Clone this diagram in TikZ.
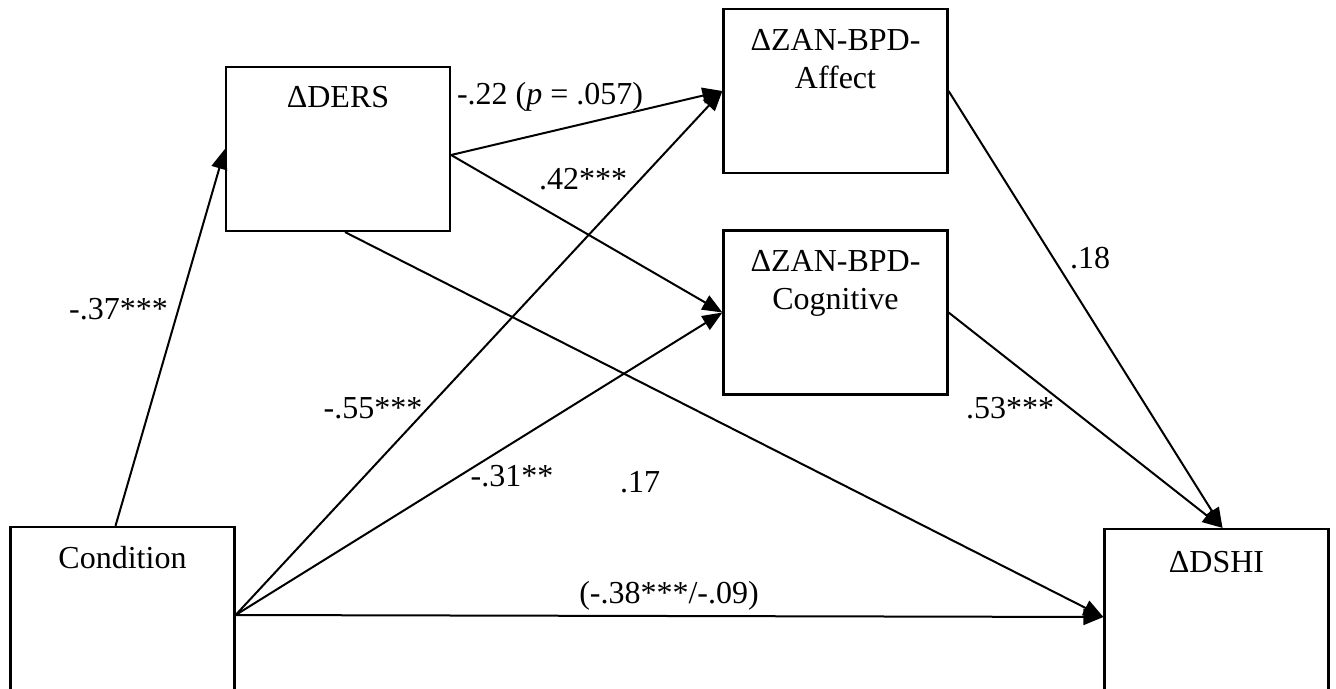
\documentclass[tikz,border=0pt]{standalone}
\usepackage{fontspec}
\setmainfont{Liberation Serif}
\usetikzlibrary{arrows.meta}

\begin{document}
\begin{tikzpicture}[x=0.5pt,y=-0.5pt]
\tikzstyle{every node}+=[inner sep=0pt, font=\fontsize{16}{19}\selectfont]
\tikzstyle{box}=[draw=black, line width=1.1pt, minimum width=112pt, minimum height=82pt]
\tikzstyle{tallbox}=[box, minimum height=88pt]
\tikzstyle{path}=[black, line width=1pt, -{Triangle[length=10pt,width=8pt]}]
\tikzstyle{lbl}=[anchor=base]
\useasboundingbox (0,0) rectangle (1336,689);
\clip (0,0) rectangle (1336,689);
% boxes
\node [box, label={[anchor=north,yshift=-10pt]north:ΔDERS}] (ders) at (338,149) {};
\node [box, label={[anchor=north,yshift=-10.5pt,align=center]north:ΔZAN-BPD-\\Affect}] (affect) at (835.5,91) {};
\node [box, label={[anchor=north,yshift=-10.5pt,align=center]north:ΔZAN-BPD-\\Cognitive}] (cogn) at (835.5,312.5) {};
\node [tallbox, label={[anchor=north,yshift=-10pt]north:Condition}] (cond) at (122.5,615) {};
\node [tallbox, label={[anchor=north,yshift=-11.5pt]north:ΔDSHI}] (dshi) at (1216.5,617) {};
% paths
\draw [path] ([xshift=-3.5pt]cond.north) -- (ders.west);
\draw [path] ([yshift=-3pt]ders.east) -- (affect.west);
\draw [path] ([yshift=-3pt]ders.east) -- (cogn.west);
\draw [path] (cond.east) -- (affect.west);
\draw [path] (cond.east) -- (cogn.west);
\draw [path] (cond.east) -- (dshi.west);
\draw [path] ([xshift=3.5pt]ders.south) -- (dshi.west);
\draw [path] (affect.east) -- ([xshift=3pt]dshi.north);
\draw [path] (cogn.east) -- ([xshift=3pt]dshi.north);
% coefficients
\node [lbl] (c37) at (118.5,320) {-.37***};
\node [lbl] (c22) at (550,105) {-.22 (\textit{p} = .057)};
\node [lbl] (c42) at (583,190) {.42***};
\node [lbl] (c18) at (1090,269) {.18};
\node [lbl] (c55) at (373,418) {-.55***};
\node [lbl] (c31) at (512,486) {-.31**};
\node [lbl] (c53) at (1010,418) {.53***};
\node [lbl] (c17) at (640,492) {.17};
\node [lbl] (c38) at (669,603) {(-.38***/-.09)};
\end{tikzpicture}
\end{document}
